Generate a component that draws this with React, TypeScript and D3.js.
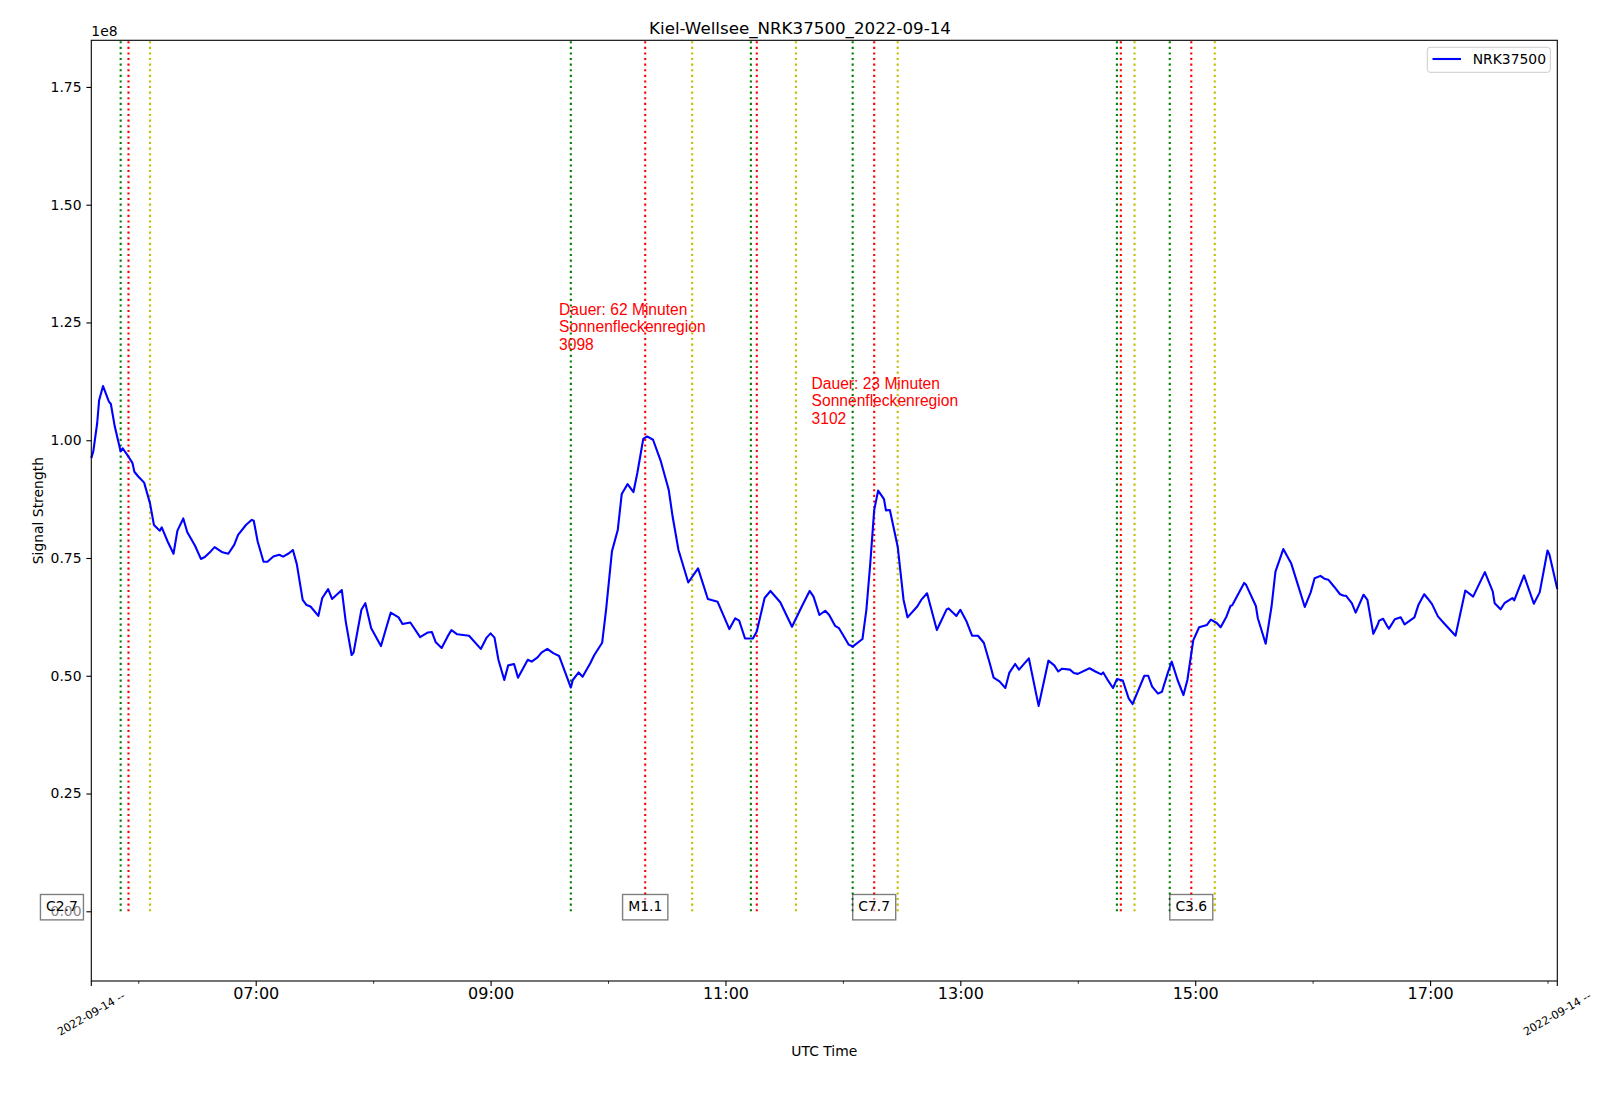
import { useEffect, useRef } from 'react'
import * as d3 from 'd3'

const WIDTH = 1600
const HEIGHT = 1102
const DAY = '2022-09-14'
const FONT = "'DejaVu Sans', sans-serif"
const NOTE_FONT = "'Liberation Sans', Arial, sans-serif"

// signal samples, values in units of 1e8
const times = [
  '05:36','05:37','05:39','05:40','05:42','05:45','05:46','05:48','05:51','05:52',
  '05:55','05:57','05:58','06:00','06:03','06:06','06:08','06:11','06:12','06:15',
  '06:18','06:20','06:23','06:25','06:29','06:32','06:34','06:37','06:39','06:43',
  '06:46','06:49','06:51','06:55','06:58','06:59','07:01','07:04','07:06','07:09',
  '07:12','07:14','07:17','07:19','07:21','07:24','07:26','07:28','07:32','07:34',
  '07:37','07:39','07:44','07:46','07:49','07:50','07:54','07:56','07:59','08:04',
  '08:07','08:09','08:13','08:15','08:19','08:24','08:28','08:30','08:32','08:35',
  '08:38','08:40','08:43','08:49','08:55','08:58','09:00','09:02','09:04','09:07',
  '09:09','09:12','09:14','09:19','09:21','09:24','09:26','09:29','09:32','09:35',
  '09:41','09:42','09:45','09:47','09:51','09:53','09:57','09:59','10:02','10:05',
  '10:07','10:10','10:13','10:15','10:18','10:20','10:23','10:27','10:31','10:33',
  '10:36','10:41','10:46','10:51','10:56','11:02','11:05','11:07','11:10','11:14',
  '11:16','11:20','11:23','11:28','11:34','11:39','11:43','11:45','11:48','11:51',
  '11:53','11:56','11:58','12:00','12:03','12:05','12:10','12:12','12:14','12:16',
  '12:18','12:21','12:22','12:24','12:28','12:31','12:33','12:38','12:40','12:43',
  '12:48','12:53','12:54','12:58','13:00','13:03','13:06','13:09','13:12','13:15',
  '13:17','13:20','13:23','13:25','13:28','13:30','13:35','13:40','13:45','13:48',
  '13:50','13:52','13:56','13:58','14:00','14:06','14:09','14:12','14:13','14:15',
  '14:18','14:20','14:23','14:26','14:28','14:31','14:34','14:36','14:38','14:41',
  '14:43','14:46','14:48','14:51','14:54','14:56','14:59','15:02','15:06','15:08',
  '15:11','15:13','15:16','15:18','15:19','15:25','15:26','15:31','15:32','15:36',
  '15:39','15:41','15:45','15:49','15:53','15:56','15:59','16:01','16:04','16:06',
  '16:08','16:11','16:14','16:16','16:17','16:20','16:22','16:26','16:28','16:31',
  '16:33','16:34','16:36','16:38','16:39','16:42','16:45','16:47','16:52','16:54',
  '16:57','16:59','17:01','17:04','17:07','17:13','17:18','17:22','17:28','17:32',
  '17:33','17:36','17:38','17:42','17:43','17:48','17:50','17:53','17:56','18:00',
  '18:01','18:05'
]

const signal = [
  0.962,0.976,1.036,1.085,1.115,1.082,1.077,1.029,0.976,0.983,
  0.965,0.952,0.933,0.923,0.910,0.866,0.820,0.808,0.815,0.785,
  0.759,0.808,0.834,0.805,0.776,0.748,0.752,0.764,0.773,0.762,
  0.759,0.778,0.799,0.820,0.831,0.829,0.785,0.742,0.742,0.753,
  0.757,0.753,0.760,0.767,0.737,0.661,0.650,0.647,0.627,0.665,
  0.684,0.663,0.682,0.615,0.544,0.549,0.640,0.654,0.601,0.563,
  0.606,0.634,0.624,0.610,0.613,0.582,0.592,0.593,0.571,0.559,
  0.583,0.597,0.588,0.585,0.557,0.581,0.590,0.581,0.534,0.491,
  0.522,0.525,0.496,0.534,0.530,0.539,0.549,0.557,0.548,0.542,
  0.475,0.491,0.507,0.498,0.527,0.544,0.570,0.640,0.764,0.810,
  0.886,0.907,0.890,0.931,1.003,1.008,1.001,0.955,0.895,0.838,
  0.767,0.698,0.728,0.663,0.657,0.599,0.622,0.617,0.579,0.579,
  0.594,0.665,0.680,0.656,0.604,0.647,0.680,0.668,0.629,0.638,
  0.629,0.606,0.601,0.587,0.566,0.562,0.578,0.640,0.739,0.852,
  0.893,0.875,0.851,0.852,0.774,0.661,0.624,0.647,0.661,0.675,
  0.597,0.641,0.643,0.627,0.640,0.617,0.585,0.585,0.570,0.527,
  0.496,0.488,0.474,0.506,0.525,0.513,0.537,0.436,0.532,0.522,
  0.509,0.515,0.513,0.506,0.504,0.516,0.509,0.503,0.507,0.493,
  0.474,0.493,0.490,0.452,0.440,0.470,0.500,0.500,0.477,0.462,
  0.466,0.506,0.530,0.491,0.459,0.491,0.575,0.603,0.608,0.619,
  0.612,0.603,0.626,0.648,0.650,0.697,0.693,0.648,0.622,0.568,
  0.647,0.721,0.769,0.739,0.686,0.646,0.677,0.707,0.712,0.706,
  0.704,0.689,0.673,0.670,0.670,0.654,0.634,0.672,0.661,0.589,
  0.606,0.617,0.621,0.606,0.600,0.620,0.624,0.609,0.624,0.650,
  0.673,0.663,0.652,0.626,0.612,0.585,0.681,0.668,0.720,0.679,
  0.654,0.641,0.654,0.665,0.660,0.713,0.689,0.653,0.677,0.766,
  0.757,0.684
]

// flare events: start (green), peak (red), end (yellow)
const flareStart = ['05:51', '09:41', '11:13', '12:05', '14:20', '14:47']
const flarePeak = ['05:55', '10:19', '11:16', '12:16', '14:22', '14:58']
const flareEnd = ['06:06', '10:43', '11:36', '12:28', '14:29', '15:10']

const flareClasses = ['C2.7', 'M1.1', 'C7.7', 'C3.6']
const flareClassTimes = ['05:21', '10:19', '12:16', '14:58']

const noteTimes = ['09:35', '11:44']
const noteValues = [1.266, 1.109]
const noteLines = [
  ['Dauer: 62 Minuten', 'Sonnenfleckenregion', '3098'],
  ['Dauer: 23 Minuten', 'Sonnenfleckenregion', '3102']
]

const yTicks = [0, 0.25, 0.5, 0.75, 1.0, 1.25, 1.5, 1.75]
const majorHours = ['07:00', '09:00', '11:00', '13:00', '15:00', '17:00']
const minorHours = ['06:00', '08:00', '10:00', '12:00', '14:00', '16:00', '18:00']

const parseTime = (hm: string) => new Date(`${DAY}T${hm}:00Z`)

export default function App() {
  const svgRef = useRef<SVGSVGElement>(null)

  useEffect(() => {
    if (!svgRef.current) return
    const svg = d3.select(svgRef.current)
    svg.selectAll('*').remove()

    const left = 91.3
    const right = 1557.3
    const top = 40.3
    const bottom = 981

    const data = times.map((t, i) => ({ t: parseTime(t), v: signal[i] }))

    const x = d3.scaleUtc()
      .domain(d3.extent(data, d => d.t) as [Date, Date])
      .range([left, right])
    const y = d3.scaleLinear().domain([-0.148, 1.849]).range([bottom, top])

    svg.append('rect').attr('width', WIDTH).attr('height', HEIGHT).attr('fill', '#fff')

    // title
    svg.append('text')
      .attr('x', 800)
      .attr('y', 34.3)
      .attr('text-anchor', 'middle')
      .attr('font-family', FONT)
      .attr('font-size', 16.7)
      .text('Kiel-Wellsee_NRK37500_2022-09-14')

    // flare markers
    const vlines = svg.append('g')
    const flareSets: [string[], string][] = [
      [flareStart, '#008000'],
      [flarePeak, '#ff0000'],
      [flareEnd, '#bfbf00']
    ]
    flareSets.forEach(([list, color]) => {
      vlines.selectAll(null)
        .data(list)
        .enter().append('line')
        .attr('x1', d => x(parseTime(d)))
        .attr('x2', d => x(parseTime(d)))
        .attr('y1', y(0))
        .attr('y2', top)
        .attr('stroke', color)
        .attr('stroke-width', 2.1)
        .attr('stroke-dasharray', '2.1,3.5')
    })

    // signal line
    const line = d3.line<{ t: Date; v: number }>()
      .x(d => x(d.t))
      .y(d => y(d.v))
    svg.append('path')
      .datum(data)
      .attr('d', line)
      .attr('fill', 'none')
      .attr('stroke', '#0000ff')
      .attr('stroke-width', 2.1)
      .attr('stroke-linejoin', 'round')

    // annotations
    noteLines.forEach((lines, i) => {
      const txt = svg.append('text')
        .attr('font-family', NOTE_FONT)
        .attr('font-size', 15.6)
        .attr('fill', '#ff0000')
      lines.forEach((l, j) => {
        txt.append('tspan')
          .attr('x', x(parseTime(noteTimes[i])))
          .attr('y', y(noteValues[i]) + j * 17.4)
          .text(l)
      })
    })

    // x axis
    const xMajor = svg.append('g')
      .attr('transform', `translate(0,${bottom})`)
      .call(d3.axisBottom(x)
        .tickValues(majorHours.map(parseTime))
        .tickFormat(d3.utcFormat('%H:%M') as any)
        .tickSize(4.9)
        .tickPadding(2)
        .tickSizeOuter(0))
      .attr('font-family', FONT)
      .attr('font-size', 16)
    xMajor.select('.domain').remove()
    xMajor.selectAll('line').attr('stroke-width', 1.1)

    const xMinor = svg.append('g')
      .attr('transform', `translate(0,${bottom})`)
      .call(d3.axisBottom(x)
        .tickValues(minorHours.map(parseTime))
        .tickFormat(() => '')
        .tickSize(2.8)
        .tickSizeOuter(0))
    xMinor.select('.domain').remove()
    xMinor.selectAll('line').attr('stroke-width', 0.8)

    // date labels at the axis ends
    const ends = x.domain()
    ends.forEach(d => {
      const px = x(d)
      svg.append('line')
        .attr('x1', px).attr('x2', px)
        .attr('y1', bottom).attr('y2', bottom + 4.9)
        .attr('stroke', '#000').attr('stroke-width', 1.1)
      svg.append('text')
        .attr('transform', `translate(${px},1014) rotate(-30)`)
        .attr('text-anchor', 'middle')
        .attr('dominant-baseline', 'central')
        .attr('font-family', FONT)
        .attr('font-size', 11.1)
        .text(`${DAY} --`)
    })

    svg.append('text')
      .attr('x', (left + right) / 2)
      .attr('y', 1055.5)
      .attr('text-anchor', 'middle')
      .attr('font-family', FONT)
      .attr('font-size', 13.9)
      .text('UTC Time')

    // y axis
    const yAxis = svg.append('g')
      .attr('transform', `translate(${left},0)`)
      .call(d3.axisLeft(y)
        .tickValues(yTicks)
        .tickFormat(d3.format('.2f'))
        .tickSize(4.9)
        .tickPadding(4.9)
        .tickSizeOuter(0))
      .attr('font-family', FONT)
      .attr('font-size', 13.9)
    yAxis.select('.domain').remove()
    yAxis.selectAll('line').attr('stroke-width', 1.1)

    svg.append('text')
      .attr('x', left)
      .attr('y', 36)
      .attr('font-family', FONT)
      .attr('font-size', 13.9)
      .text('1e8')

    svg.append('text')
      .attr('transform', `translate(38,${(top + bottom) / 2}) rotate(-90)`)
      .attr('text-anchor', 'middle')
      .attr('dominant-baseline', 'central')
      .attr('font-family', FONT)
      .attr('font-size', 13.9)
      .text('Signal Strength')

    // spines
    svg.append('rect')
      .attr('x', left)
      .attr('y', top)
      .attr('width', right - left)
      .attr('height', bottom - top)
      .attr('fill', 'none')
      .attr('stroke', '#000')
      .attr('stroke-width', 1.1)

    // flare class labels
    flareClasses.forEach((c, i) => {
      const cx = x(parseTime(flareClassTimes[i]))
      const base = y(0)
      const g = svg.append('g')
      const rect = g.append('rect')
      const txt = g.append('text')
        .attr('x', cx)
        .attr('y', base)
        .attr('text-anchor', 'middle')
        .attr('font-family', FONT)
        .attr('font-size', 13.9)
        .text(c)
      const w = (txt.node() as SVGTextElement).getComputedTextLength()
      rect
        .attr('x', cx - w / 2 - 5.6)
        .attr('y', base - 16.8)
        .attr('width', w + 11.2)
        .attr('height', 25.4)
        .attr('fill', '#fff')
        .attr('fill-opacity', 0.5)
        .attr('stroke', '#000')
        .attr('stroke-opacity', 0.5)
        .attr('stroke-width', 1.4)
    })

    // legend
    const legend = svg.append('g')
    legend.append('rect')
      .attr('x', 1427.3)
      .attr('y', 47.3)
      .attr('width', 123)
      .attr('height', 25)
      .attr('rx', 2.8)
      .attr('fill', '#fff')
      .attr('fill-opacity', 0.8)
      .attr('stroke', '#cccccc')
      .attr('stroke-width', 1)
    legend.append('line')
      .attr('x1', 1432.5).attr('x2', 1461)
      .attr('y1', 59).attr('y2', 59)
      .attr('stroke', '#0000ff')
      .attr('stroke-width', 2.1)
    legend.append('text')
      .attr('x', 1472.7)
      .attr('y', 64)
      .attr('font-family', FONT)
      .attr('font-size', 13.9)
      .text('NRK37500')
  }, [])

  return (
    <svg
      ref={svgRef}
      width={WIDTH}
      height={HEIGHT}
      style={{ position: 'absolute', left: 0, top: 0, display: 'block' }}
    />
  )
}
